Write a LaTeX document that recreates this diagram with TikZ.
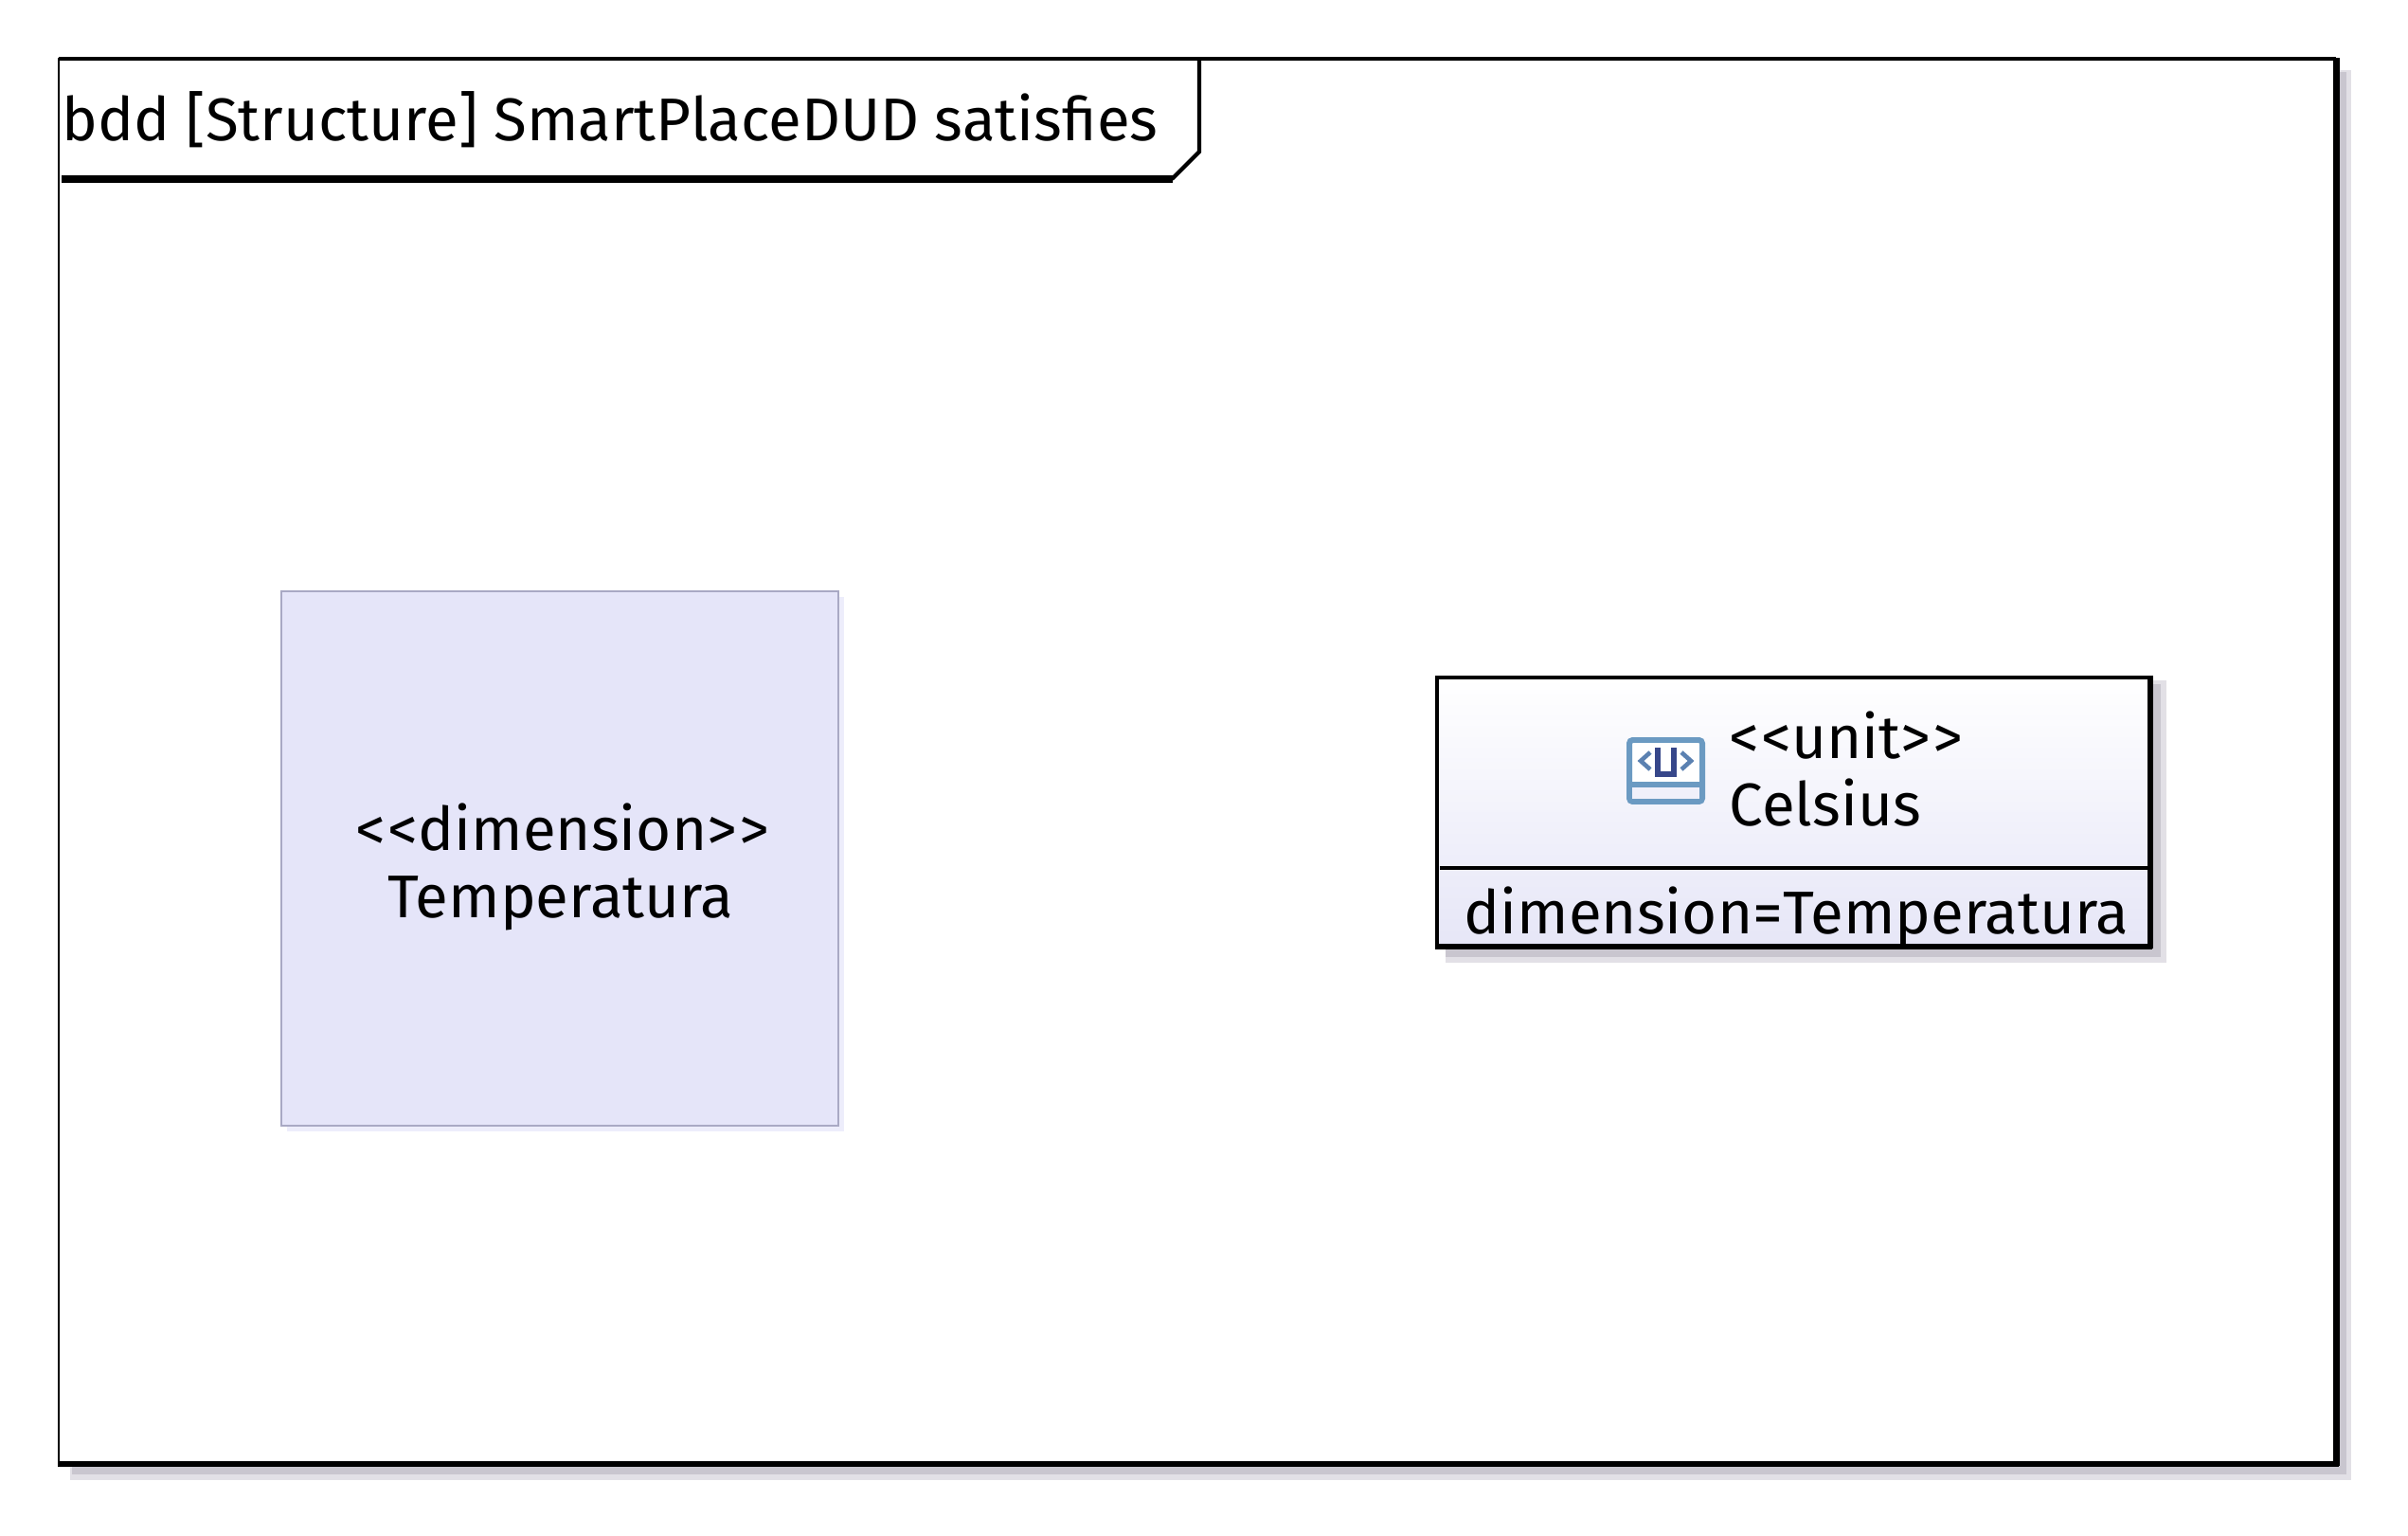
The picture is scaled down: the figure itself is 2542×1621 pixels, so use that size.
\documentclass[tikz,border=0pt]{standalone}
\usepackage{fontspec}
\newfontfamily\umlfont{Fira Sans}
\definecolor{dimfill}{HTML}{E5E5F9}
\definecolor{dimline}{HTML}{A9A9C4}
\definecolor{unitfill}{HTML}{E6E6F7}
\definecolor{shadowdark}{HTML}{C9C6CF}
\definecolor{shadowlight}{HTML}{E2E0E6}
\definecolor{iconline}{HTML}{6B9AC2}
\definecolor{iconletter}{HTML}{37478A}
\tikzset{
  umltext/.style={font=\umlfont\fontsize{18.1}{20.3}\selectfont, inner sep=0pt}
}
\newcommand{\opentag}{<\kern0.6pt<}
\newcommand{\closetag}{>\kern0.6pt>}

\begin{document}
\begin{tikzpicture}[x=0.01cm, y=-0.01cm]
  \useasboundingbox (0, 0) rectangle (2542, 1621);

  % Draws the frame with its shadow and the title tab
  \fill[shadowlight] (74, 1500) rectangle (2482, 1562);
  \fill[shadowlight] (2440, 74) rectangle (2482, 1562);
  \fill[shadowdark] (76, 1500) rectangle (2477, 1556);
  \fill[shadowdark] (2440, 76) rectangle (2477, 1556);
  \draw[line width=0.7pt, fill=white] (62, 62) rectangle (2465, 1544);
  \draw[line width=2pt] (2466, 61) -- (2466, 1547);
  \draw[line width=1.5pt] (61, 1545) -- (2469, 1545);
  \draw[line width=1pt] (62, 62) -- (2466, 62);
  \draw[line width=1.2pt] (1266, 62) -- (1266, 160) -- (1237, 189);
  \draw[line width=2pt] (1238, 189) -- (65, 189);
  \node[umltext, anchor=base west] (title) at (65, 148)
    {bdd [Structure] SmartPlaceDUD satisfies};

  % Draws the dimension block
  \fill[dimfill!70!white] (303, 630) rectangle (891, 1194);
  \draw[dimline, line width=0.4pt, fill=dimfill] (297, 624) rectangle (885, 1188);
  \node[umltext, anchor=base] (stereotype) at (594, 897) {\opentag dimension\closetag};
  \node[umltext, anchor=base] (dimension) at (592, 968) {Temperatura};

  % Draws the unit block with its compartment
  \fill[shadowlight] (1526, 718) rectangle (2287, 1016);
  \fill[shadowdark] (1526, 722) rectangle (2281, 1010);
  \draw[line width=1pt, top color=white, bottom color=unitfill]
    (1517, 715) rectangle (2269, 998);
  \draw[line width=1.7pt] (2270, 713) -- (2270, 1001);
  \draw[line width=1.7pt] (1515, 999) -- (2272, 999);
  \draw[line width=1pt] (1520, 916) -- (2268, 916);
  \node[umltext, anchor=base west] (unitname) at (1825, 800) {\opentag unit\closetag};
  \node[umltext, anchor=base west] (celsius) at (1825, 871) {Celsius};
  \node[umltext, anchor=base west] (compartment) at (1545, 985)
    {dimension=Temperatura};

  % Draws the little icon of the unit
  \draw[iconline, line width=1.7pt, fill=white, rounded corners=1pt]
    (1720, 781) rectangle (1797, 846);
  \fill[unitfill!60!white] (1723, 831) rectangle (1794, 843);
  \draw[iconline, line width=1.7pt] (1720, 828) -- (1797, 828);
  \draw[iconletter, line width=1.7pt] (1750, 789) -- (1750, 817) -- (1767, 817) -- (1767, 789);
  \foreach \tipx/\backx in {1732/1742, 1785/1775}
    \draw[iconline!70!iconletter, line width=1.3pt] (\backx, 794) -- (\tipx, 803) -- (\backx, 812);
\end{tikzpicture}
\end{document}
